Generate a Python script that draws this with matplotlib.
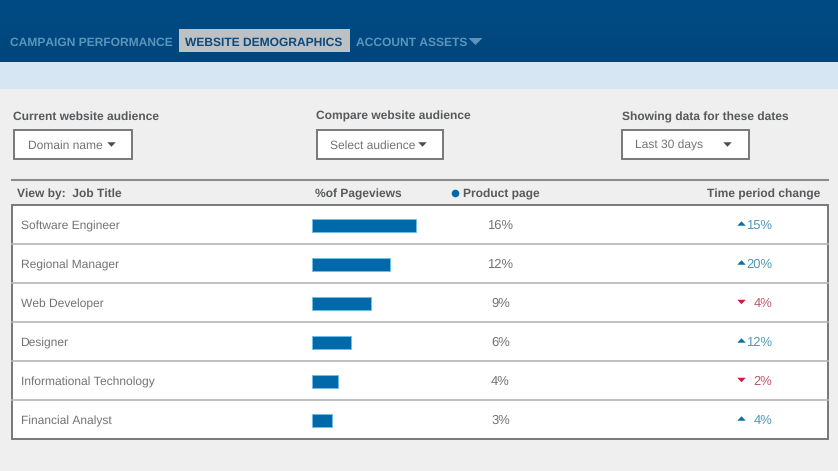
import numpy as np
import matplotlib
matplotlib.use("Agg")
import matplotlib.pyplot as plt
from matplotlib.patches import Rectangle

plt.rcParams['font.family'] = ['Liberation Sans', 'DejaVu Sans']
plt.rcParams['text.hinting'] = 'none'
plt.rcParams['text.hinting_factor'] = 1

job_titles = ["Software Engineer", "Regional Manager", "Web Developer",
              "Designer", "Informational Technology", "Financial Analyst"]
pageviews = [16, 12, 9, 6, 4, 3]
period_change = [15, 20, -4, 12, -2, 4]
nav_labels = ["CAMPAIGN PERFORMANCE", "WEBSITE DEMOGRAPHICS", "ACCOUNT ASSETS"]

W, H = 838, 471
GREY = "#58595b"
LIGHT = "#727375"
fig = plt.figure(figsize=(W / 100, H / 100), dpi=100, facecolor="#efefef")
ax = fig.add_axes([0, 0, 1, 1])
ax.axis("off")

# header
grad = np.linspace(0, 1, 64)[:, None]
top = np.array([0x00, 0x4b, 0x84]) / 255
bot = np.array([0x00, 0x46, 0x7c]) / 255
img = (top + (bot - top) * grad)[:, None, :].reshape(64, 1, 3)
ax.imshow(img, extent=(0, W, 62, 0), aspect="auto", zorder=0)
ax.set_xlim(0, W)
ax.set_ylim(H, 0)
ax.add_patch(Rectangle((0, 62), W, 27, fc="#d6e7f3", ec="none", zorder=0))
ax.add_patch(Rectangle((179, 29), 171, 22.5, fc="#bdc1c4", ec="none", zorder=1))

NAVC = "#5b95bb"
NAVS = 8.55
ax.text(9.5, 45.7, nav_labels[0], color=NAVC, fontsize=NAVS, fontweight="bold")
ax.text(185, 45.7, nav_labels[1], color="#0b4a7d", fontsize=NAVS, fontweight="bold")
ax.text(355.5, 45.7, nav_labels[2], color=NAVC, fontsize=NAVS, fontweight="bold")


def tri(x, y, w, h, color, up=False, z=4):
    s = -1 if up else 1
    ax.fill([x - w / 2, x + w / 2, x], [y - s * h / 2, y - s * h / 2, y + s * h / 2],
            color=color, lw=0, zorder=z)


tri(475.5, 41.5, 14, 7, NAVC)

# selectors
for x, txt in [(13, "Current website audience"),
               (316, "Compare website audience"),
               (622, "Showing data for these dates")]:
    ax.text(x, 120, txt, color=GREY, fontsize=8.95, fontweight="bold")

for x0, x1, txt, tx, ax_x in [(14, 132, "Domain name", 27.5, 111.5),
                              (316.5, 443, "Select audience", 329.5, 422.5),
                              (621.5, 748.5, "Last 30 days", 635, 727.5)]:
    ax.add_patch(Rectangle((x0, 130), x1 - x0, 29, fc="white", ec="#77787a", lw=1.4, zorder=2))
    ax.text(tx, 148.7, txt, color=LIGHT, fontsize=8.9, zorder=3)
    tri(ax_x, 144.5, 8.5, 4.5, "#4d4d4f")

# column heads
ax.plot([12, 828], [180, 180], color="#8a8b8d", lw=1.5, zorder=2)
ax.text(16.5, 197.3, "View by:  Job Title", color=GREY, fontsize=8.9, fontweight="bold")
ax.text(315, 197.3, "%of Pageviews", color=GREY, fontsize=8.9, fontweight="bold")
ax.scatter([455], [193], s=30, color="#0069aa", lw=0, zorder=3)
ax.text(463, 197.3, "Product page", color=GREY, fontsize=8.9, fontweight="bold")
ax.text(820.5, 197.3, "Time period change", color=GREY, fontsize=8.9, fontweight="bold", ha="right")

# table
ROW_TOP, ROW_H = 204.5, 39
n = len(job_titles)
ax.add_patch(Rectangle((12, ROW_TOP), 816, ROW_H * n, fc="white", ec="#77787a", lw=1.4, zorder=1))
for i in range(1, n):
    ax.plot([12, 828], [ROW_TOP + i * ROW_H] * 2, color="#b4b5b7", lw=1.2, zorder=2)

UP, DOWN = "#4f97b5", "#c2566a"
for i, (t, p, c) in enumerate(zip(job_titles, pageviews, period_change)):
    yc = ROW_TOP + (i + 0.5) * ROW_H
    base = yc + 5
    ax.text(20.5, base + 1, t, color=LIGHT, fontsize=8.8, zorder=3)
    ax.text(500.5, base, f"{p}%", color=LIGHT, fontsize=9.2, ha="center", zorder=3)
    col = UP if c > 0 else DOWN
    ax.text(772.5, base, f"{abs(c)}%", color=col, fontsize=9.6, ha="right", zorder=3)
    tri(741.5, yc + (-0.5 if c > 0 else 0), 8.5, 4.5, "#0f6f9f" if c > 0 else "#c8203f", up=c > 0)

# bars, on their own data scale
PX_PER_PCT = 6.5
bx0, bx1 = 312, 312 + 20 * PX_PER_PCT
by0, by1 = ROW_TOP + 1.5, ROW_TOP + 1.5 + ROW_H * n
bax = fig.add_axes([bx0 / W, 1 - by1 / H, (bx1 - bx0) / W, (by1 - by0) / H])
bax.patch.set_alpha(0)
bax.axis("off")
bax.barh(np.arange(n), pageviews, height=12.5 / ROW_H, color="#0069aa",
         edgecolor="#6fbfe6", linewidth=0.6)
bax.set_xlim(0, 20)
bax.set_ylim(n - 0.5, -0.5)

fig.savefig("out.png", dpi=100)
